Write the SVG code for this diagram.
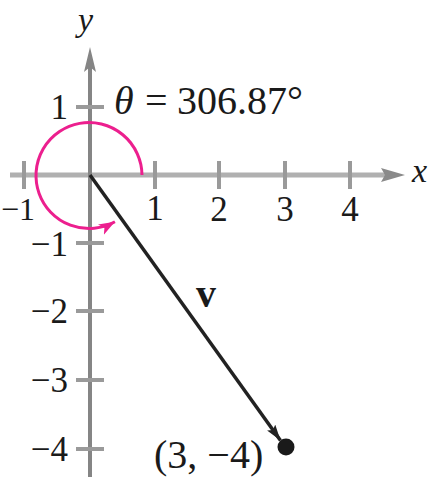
<svg xmlns="http://www.w3.org/2000/svg" width="433" height="477" viewBox="0 0 433 477">
  <style>
    .lbl { font-family: "Liberation Serif", "Times New Roman", serif; fill: #1a1a1a; }
    .tick { font-size: 35px; }
    .big { font-size: 40px; }
    .it { font-style: italic; }
    .axis-x { stroke: #b0b0b0; stroke-width: 5; }
    .axis-y { stroke: #858585; stroke-width: 4; }
    .tk { stroke: #9a9a9a; stroke-width: 4; }
  </style>
  <defs>
    <marker id="pinkHead" markerUnits="userSpaceOnUse" markerWidth="20" markerHeight="14" refX="16" refY="6" orient="auto">
      <path d="M0,0 L16,6 L0,12 L4,6 Z" fill="#ec1f8e"/>
    </marker>
    <marker id="darkHead" markerUnits="userSpaceOnUse" markerWidth="20" markerHeight="12" refX="16" refY="5" orient="auto">
      <path d="M0,0 L16,5 L0,10 L3,5 Z" fill="#222"/>
    </marker>
  </defs>
  <rect width="433" height="477" fill="#fff"/>

  <g id="axes">
    <line class="axis-x" x1="10" y1="175" x2="388" y2="175"/>
    <polygon points="405,175 381,168 385,175 381,182" fill="#8a8a8a"/>
    <line class="axis-y" x1="90" y1="477" x2="90" y2="66"/>
    <polygon points="90,47 84,72 90,67 96,72" fill="#858585"/>
    <g id="xticks">
      <line class="tk" x1="24" y1="161" x2="24" y2="189"/>
      <line class="tk" x1="155" y1="161" x2="155" y2="189"/>
      <line class="tk" x1="219" y1="161" x2="219" y2="189"/>
      <line class="tk" x1="285" y1="161" x2="285" y2="189"/>
      <line class="tk" x1="350" y1="161" x2="350" y2="189"/>
    </g>
    <g id="yticks">
      <line class="tk" x1="76" y1="107" x2="104" y2="107"/>
      <line class="tk" x1="76" y1="243" x2="104" y2="243"/>
      <line class="tk" x1="76" y1="311" x2="104" y2="311"/>
      <line class="tk" x1="76" y1="380" x2="104" y2="380"/>
      <line class="tk" x1="76" y1="449" x2="104" y2="449"/>
    </g>
    <text class="lbl it" x="78" y="31" font-size="34">y</text>
    <text class="lbl it" x="412" y="182" font-size="34">x</text>
  </g>

  <g id="tick-labels" class="lbl tick">
    <text x="155" y="220" text-anchor="middle">1</text>
    <text x="219" y="221" text-anchor="middle">2</text>
    <text x="285" y="221" text-anchor="middle">3</text>
    <text x="350" y="221" text-anchor="middle">4</text>
    <text x="1" y="220" font-size="32">−1</text>
    <text x="68" y="119" text-anchor="end">1</text>
    <text x="68" y="256" text-anchor="end">−1</text>
    <text x="68" y="323" text-anchor="end">−2</text>
    <text x="68" y="392" text-anchor="end">−3</text>
    <text x="68" y="461" text-anchor="end">−4</text>
  </g>

  <g id="angle">
    <path d="M 142 175 A 53 53 0 1 0 114.9 221.8" fill="none" stroke="#ec1f8e" stroke-width="3" marker-end="url(#pinkHead)"/>
    <text class="lbl big" y="114"><tspan class="it" x="114">θ</tspan><tspan x="145">=</tspan><tspan x="177">306.87°</tspan></text>
  </g>

  <g id="connectors">
    <line x1="90" y1="175" x2="280.5" y2="440.5" stroke="#222" stroke-width="3.5" marker-end="url(#darkHead)"/>
  </g>

  <g id="vector-label">
    <text class="lbl" x="196" y="307" font-size="40" font-weight="bold">v</text>
  </g>

  <g id="point">
    <circle cx="286" cy="447" r="8.5" fill="#1a1a1a"/>
    <text class="lbl big" x="154" y="468">(3, −4)</text>
  </g>
</svg>
